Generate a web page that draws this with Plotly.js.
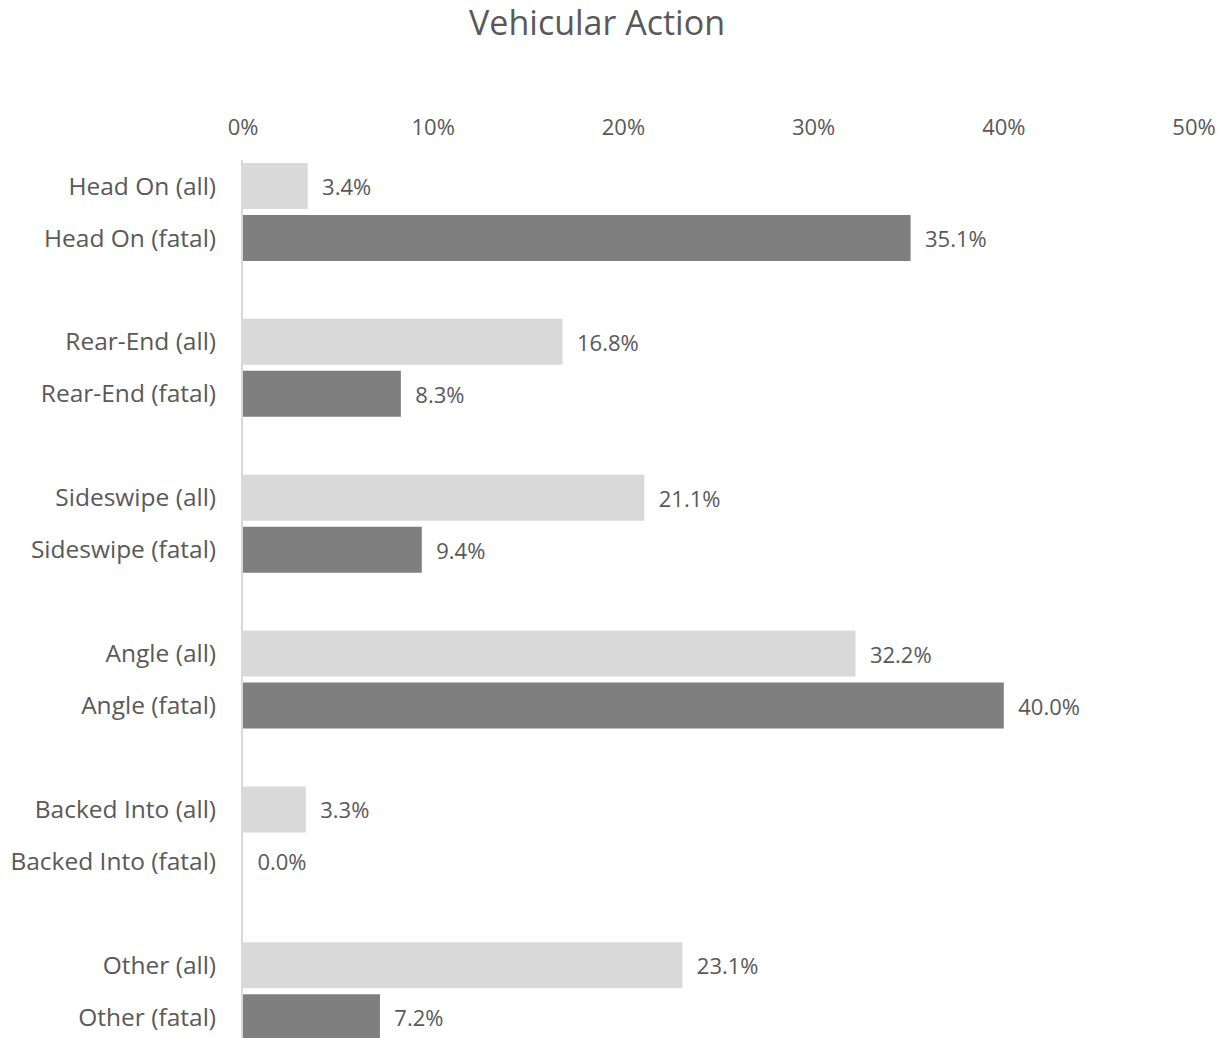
<!DOCTYPE html>
<html>
<head>
<meta charset="utf-8">
<script src="https://cdn.plot.ly/plotly-3.0.1.min.js"></script>
<style>
  html, body { margin: 0; padding: 0; background: #fff; }
  #chart { width: 1226px; height: 1038px; }
</style>
</head>
<body>
<div id="chart"></div>
<script>
var groups = ['Head On', 'Rear-End', 'Sideswipe', 'Angle', 'Backed Into', 'Other'];
var allPct = [3.4, 16.8, 21.1, 32.2, 3.3, 23.1];
var fatalPct = [35.1, 8.3, 9.4, 40.0, 0.0, 7.2];
var xTicks = [0, 10, 20, 30, 40, 50];

document.addEventListener('DOMContentLoaded', function() {

  // one row per bar, with an empty row between the groups
  var cats = [], vals = [], cols = [], labels = [];
  groups.forEach(function(g, i) {
    cats.push(g + ' (all)');   vals.push(allPct[i]);   cols.push('#d9d9d9');
    labels.push('\u00a0\u00a0' + allPct[i].toFixed(1) + '%');
    cats.push(g + ' (fatal)'); vals.push(fatalPct[i]); cols.push('#7f7f7f');
    labels.push('\u00a0\u00a0' + fatalPct[i].toFixed(1) + '%');
    if (i < groups.length - 1) {
      cats.push(' '.repeat(i + 1)); vals.push(null); cols.push('#ffffff'); labels.push('');
    }
  });

  var data = [{
      y: cats,
      x: vals,
      type: 'bar',
      orientation: 'h',
      marker: {color: cols},
      text: labels,
      textposition: 'outside',
      cliponaxis: false,
      textfont: {size: 22, color: '#595959'},
      hoverinfo: 'skip'
  }];
  var config =
  {
    staticPlot: true,
  }
  var layout = {
      width: 1226,
      height: 1038,
      font: {family: '"Open Sans", sans-serif', color: '#595959'},
      title: {
          text: 'Vehicular Action',
          font: {size: 34, color: '#595959'},
          x: 0.487,
          xanchor: 'center',
          y: 0.978,
          yanchor: 'middle',
          yref: 'container'
      },
      margin: {l: 243, r: 32, t: 160, b: 0},
      bargap: 0.115,
      showlegend: false,
      xaxis: {
          side: 'top',
          range: [0, 50],
          tickmode: 'array',
          tickvals: xTicks,
          ticktext: xTicks.map(function(v) { return v + '%'; }),
          showgrid: false,
          zeroline: false,
          showline: false,
          ticks: '',
          tickfont: {size: 22, color: '#595959'},
          ticklabelstandoff: 20
      },
      yaxis: {
          type: 'category',
          categoryorder: 'array',
          categoryarray: cats,
          range: [16.4, -0.5],
          showline: true,
          linecolor: '#d9d9d9',
          linewidth: 2,
          showgrid: false,
          ticks: '',
          tickfont: {size: 24.5, color: '#595959'},
          ticklabelstandoff: 20
      },
      plot_bgcolor: '#ffffff',
      paper_bgcolor: '#ffffff'
  };

  Plotly.newPlot('chart', data, layout, config);
});
</script>
</body>
</html>
